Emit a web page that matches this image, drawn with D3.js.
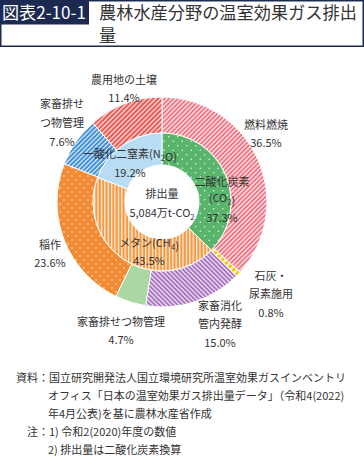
<!DOCTYPE html>
<html>
<head>
<meta charset="utf-8">
<script src="https://cdn.jsdelivr.net/npm/d3@7"></script>
<style>
  body { margin: 0; background: #fff; }
  svg { display: block; font-family: "Noto Sans CJK JP", "Noto Sans", sans-serif; }
</style>
</head>
<body>
<div id="chart"></div>
<script>
// data
var outer_names = ["燃料燃焼", "石灰・尿素施用", "家畜消化管内発酵", "家畜排せつ物管理", "稲作", "家畜排せつ物管理", "農用地の土壌"];
var outer_values = [36.5, 0.8, 15.0, 4.7, 23.6, 7.6, 11.4];
var outer_label_lines = [["燃料燃焼"], ["石灰・", "尿素施用"], ["家畜消化", "管内発酵"], ["家畜排せつ物管理"], ["稲作"], ["家畜排せ", "つ物管理"], ["農用地の土壌"]];

var inner_names = ["二酸化炭素(CO2)", "メタン(CH4)", "一酸化二窒素(N2O)"];
var inner_values = [37.3, 43.5, 19.2];
var inner_label_lines = [["二酸化炭素", "(CO2)"], ["メタン(CH4)"], ["一酸化二窒素(N2O)"]];

var total_label = ["排出量", "5,084万t-CO2"];

var footer_lines = [
  "資料：国立研究開発法人国立環境研究所温室効果ガスインベントリ",
  "オフィス「日本の温室効果ガス排出量データ」（令和4(2022)",
  "年4月公表)を基に農林水産省作成",
  "注：1) 令和2(2020)年度の数値",
  "2) 排出量は二酸化炭素換算"
];

// styling / layout
var width = 364, height = 456;
var cx = 162, cy = 202;
var r_hole = 37, r_mid = 69, r_out = 105;
var navy = "#1c2a52";
var txt = "#333";

var outer_fill = ["pinkStripe", "yellowStripe", "purpleStripe", null, "orangeDots", "blueStripe", "redStripe"];
var outer_solid = [null, null, null, "#abd7a2", null, null, null];
var inner_fill = ["greenDots", "orangeVert", null];
var inner_solid = [null, null, "#b8ddf3"];

// label offsets from the centre: [x, y of each line]
var outer_label_pos = [[104, [-77, -59]], [109, [74, 92, 111]], [58, [104, 122, 141]], [-41, [120, 138]], [-112, [43, 61]], [-100, [-98, -79, -60]], [-38, [-122, -104]]];
var inner_label_pos = [[60, [-20, -4, 16]], [-13, [41, 59]], [-32, [-48, -29]]];

var svg = d3.select("#chart").append("svg")
    .attr("width", width)
    .attr("height", height);

var defs = svg.append("defs");

function stripe(id, base, angle, size, lw) {
  var p = defs.append("pattern")
      .attr("id", id)
      .attr("patternUnits", "userSpaceOnUse")
      .attr("width", size).attr("height", size)
      .attr("patternTransform", "rotate(" + angle + ")");
  p.append("rect").attr("width", size).attr("height", size).attr("fill", base);
  p.append("rect").attr("width", lw).attr("height", size).attr("fill", "#fff").attr("opacity", 0.85);
}
function dots(id, base, size, rad) {
  var p = defs.append("pattern")
      .attr("id", id)
      .attr("patternUnits", "userSpaceOnUse")
      .attr("width", size).attr("height", size);
  p.append("rect").attr("width", size).attr("height", size).attr("fill", base);
  p.append("circle").attr("cx", size / 4).attr("cy", size / 4).attr("r", rad).attr("fill", "#fff");
  p.append("circle").attr("cx", size * 3 / 4).attr("cy", size * 3 / 4).attr("r", rad).attr("fill", "#fff");
}
stripe("pinkStripe", "#f07483", 45, 3.2, 1.3);
stripe("yellowStripe", "#f7c200", 45, 5, 2.2);
stripe("purpleStripe", "#a874c0", -45, 3.2, 1.2);
stripe("blueStripe", "#3d8fd6", 45, 3.2, 1.2);
stripe("redStripe", "#ea5b57", 45, 3.4, 1.2);
stripe("orangeVert", "#f59a45", 0, 3.4, 1.2);
dots("orangeDots", "#f28b34", 8, 0.7);
dots("greenDots", "#58b56b", 9, 0.7);

var g = svg.append("g").attr("transform", "translate(" + cx + "," + cy + ")");

var pie = d3.pie().sort(null).value(function(d) { return d; });
var arc_out = d3.arc().innerRadius(r_mid).outerRadius(r_out);
var arc_in = d3.arc().innerRadius(r_hole).outerRadius(r_mid);

g.selectAll("path.outer")
  .data(pie(outer_values))
  .enter().append("path")
    .attr("class", "outer")
    .attr("d", arc_out)
    .attr("fill", function(d, i) { return outer_solid[i] || "url(#" + outer_fill[i] + ")"; })
    .attr("stroke", "#fff")
    .attr("stroke-width", 1);

g.selectAll("path.inner")
  .data(pie(inner_values))
  .enter().append("path")
    .attr("class", "inner")
    .attr("d", arc_in)
    .attr("fill", function(d, i) { return inner_solid[i] || "url(#" + inner_fill[i] + ")"; })
    .attr("stroke", "#fff")
    .attr("stroke-width", 1);

// subscript digits after chemical letters
function addRich(sel, s) {
  var re = /(CO|CH|N)(\d)/g, last = 0, m;
  while ((m = re.exec(s)) !== null) {
    sel.append("tspan").text(s.slice(last, m.index + m[1].length));
    sel.append("tspan").attr("font-size", "0.7em").attr("dy", 3).text(m[2]);
    sel.append("tspan").attr("dy", -3).text("");
    last = m.index + m[0].length;
  }
  sel.append("tspan").text(s.slice(last));
}

function block(x, ys, lines, size) {
  lines.forEach(function(s, i) {
    var t = g.append("text")
      .attr("x", x).attr("y", ys[i])
      .attr("dy", "0.35em")
      .attr("text-anchor", "middle")
      .attr("font-size", size)
      .attr("fill", txt);
    addRich(t, s);
  });
}

outer_values.forEach(function(v, i) {
  var lines = outer_label_lines[i].concat([d3.format(".1f")(v) + "%"]);
  block(outer_label_pos[i][0], outer_label_pos[i][1], lines, 11);
});

inner_values.forEach(function(v, i) {
  var lines = inner_label_lines[i].concat([d3.format(".1f")(v) + "%"]);
  block(inner_label_pos[i][0], inner_label_pos[i][1], lines, 11);
});

block(0, [-8, 11], total_label, 11);

// title
svg.append("rect")
  .attr("x", 0.75).attr("y", 0.75).attr("width", width - 1.5).attr("height", 45.5)
  .attr("fill", "none").attr("stroke", navy).attr("stroke-width", 1.5);
svg.append("rect")
  .attr("x", 0).attr("y", 0).attr("width", 89).attr("height", 24.5)
  .attr("fill", navy);
svg.append("text")
  .attr("x", 2).attr("y", 19)
  .attr("font-size", 17.5).attr("fill", "#fff")
  .attr("textLength", 84).attr("lengthAdjust", "spacingAndGlyphs")
  .text("図表2-10-1");
svg.append("text")
  .attr("x", 99).attr("y", 18.5)
  .attr("font-size", 17.2).attr("fill", txt)
  .text("農林水産分野の温室効果ガス排出");
svg.append("text")
  .attr("x", 99).attr("y", 42)
  .attr("font-size", 17.2).attr("fill", txt)
  .text("量");

// footer
var foot_x = [16, 48, 48, 27, 48];
footer_lines.forEach(function(s, i) {
  svg.append("text")
    .attr("x", foot_x[i]).attr("y", 382 + i * 18)
    .attr("font-size", 11).attr("fill", txt)
    .text(s);
});
</script>
</body>
</html>
